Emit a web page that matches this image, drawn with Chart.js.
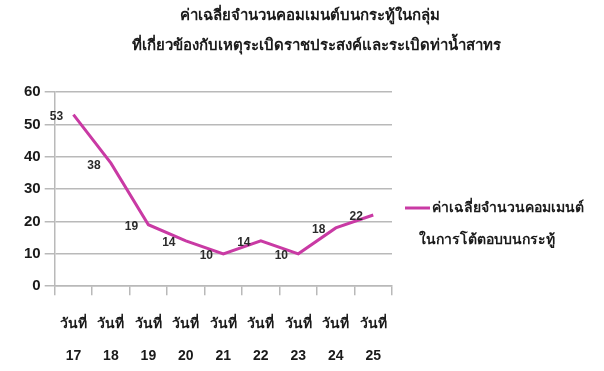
<!DOCTYPE html>
<html>
<head>
<meta charset="utf-8">
<script src="https://cdn.jsdelivr.net/npm/chart.js@4"></script>
<style>
  html, body { margin: 0; padding: 0; background: #fff; }
  #wrap { width: 604px; height: 371px; }
</style>
</head>
<body>
<div id="wrap"><canvas id="chart"></canvas></div>
<script>
// --- data ---
const titleLines = [
    "ค่าเฉลี่ยจำนวนคอมเมนต์บนกระทู้ในกลุ่ม",
    "ที่เกี่ยวข้องกับเหตุระเบิดราชประสงค์และระเบิดท่าน้ำสาทร"
];
const days = ["17", "18", "19", "20", "21", "22", "23", "24", "25"];
const dayLabels = days.map(d => ["วันที่", d]);
const avgComments = [53, 38, 19, 14, 10, 14, 10, 18, 22];
const seriesName = ["ค่าเฉลี่ยจำนวนคอมเมนต์", "ในการโต้ตอบบนกระทู้"];

const FONT = "'Liberation Sans', 'Noto Sans', sans-serif";
const LINE_COLOR = "#c93aa4";
const GRID = "#b9b9b9";

// title drawn by hand so it can sit centred over the whole picture
const topTitle = {
    id: "topTitle",
    afterDraw(chart) {
        const ctx = chart.ctx;
        ctx.save();
        ctx.font = "bold 15px " + FONT;
        ctx.fillStyle = "#1a1a1a";
        ctx.textAlign = "center";
        ctx.textBaseline = "middle";
        ctx.fillText(titleLines[0], 310, 16);
        ctx.fillText(titleLines[1], 316, 46);
        ctx.restore();
    }
};

// labels sit to the left of each point
const pointLabels = {
    id: "pointLabels",
    afterDatasetsDraw(chart) {
        const ctx = chart.ctx;
        const meta = chart.getDatasetMeta(0);
        ctx.save();
        ctx.font = "bold 12px " + FONT;
        ctx.fillStyle = "#2b2b2b";
        ctx.textAlign = "center";
        ctx.textBaseline = "middle";
        meta.data.forEach((pt, i) => {
            ctx.fillText(String(avgComments[i]), pt.x - 17, pt.y + 2);
        });
        ctx.restore();
    }
};

// legend on the right, two lines of text
const sideLegend = {
    id: "sideLegend",
    afterDraw(chart) {
        const ctx = chart.ctx;
        const x = chart.chartArea.right + 13;
        const y = 208;
        ctx.save();
        ctx.strokeStyle = LINE_COLOR;
        ctx.lineWidth = 3;
        ctx.beginPath();
        ctx.moveTo(x, y);
        ctx.lineTo(x + 25, y);
        ctx.stroke();
        ctx.font = "bold 14px " + FONT;
        ctx.fillStyle = "#1a1a1a";
        ctx.textBaseline = "middle";
        ctx.fillText(seriesName[0], x + 27, y);
        ctx.fillText(seriesName[1], x + 14, y + 32);
        ctx.restore();
    }
};

new Chart(document.getElementById("chart"), {
    type: "line",
    data: {
        labels: dayLabels,
        datasets: [{
            label: seriesName.join(""),
            data: avgComments,
            borderColor: LINE_COLOR,
            borderWidth: 3,
            pointRadius: 0,
            tension: 0,
            fill: false
        }]
    },
    options: {
        responsive: true,
        maintainAspectRatio: false,
        animation: false,
        layout: { padding: { left: 20, right: 212, top: 92, bottom: -14 } },
        plugins: {
            legend: { display: false },
            tooltip: { enabled: false },
            title: { display: false }
        },
        scales: {
            x: {
                offset: true,
                grid: {
                    offset: true,
                    drawOnChartArea: false,
                    drawTicks: true,
                    tickLength: 9,
                    color: GRID,
                    lineWidth: 1.5
                },
                border: { display: true, color: GRID, width: 1.5 },
                ticks: {
                    color: "#1a1a1a",
                    font: { family: FONT, size: 14, weight: "bold", lineHeight: 2.35 },
                    maxRotation: 0,
                    autoSkip: false,
                    padding: 12
                }
            },
            y: {
                min: 0,
                max: 60,
                ticks: {
                    stepSize: 10,
                    color: "#1a1a1a",
                    font: { family: FONT, size: 15, weight: "bold" },
                    padding: 4
                },
                grid: {
                    color: GRID,
                    lineWidth: 1.5,
                    tickLength: 10
                },
                border: { display: true, color: GRID, width: 1.5 }
            }
        }
    },
    plugins: [topTitle, pointLabels, sideLegend]
});
</script>
</body>
</html>
